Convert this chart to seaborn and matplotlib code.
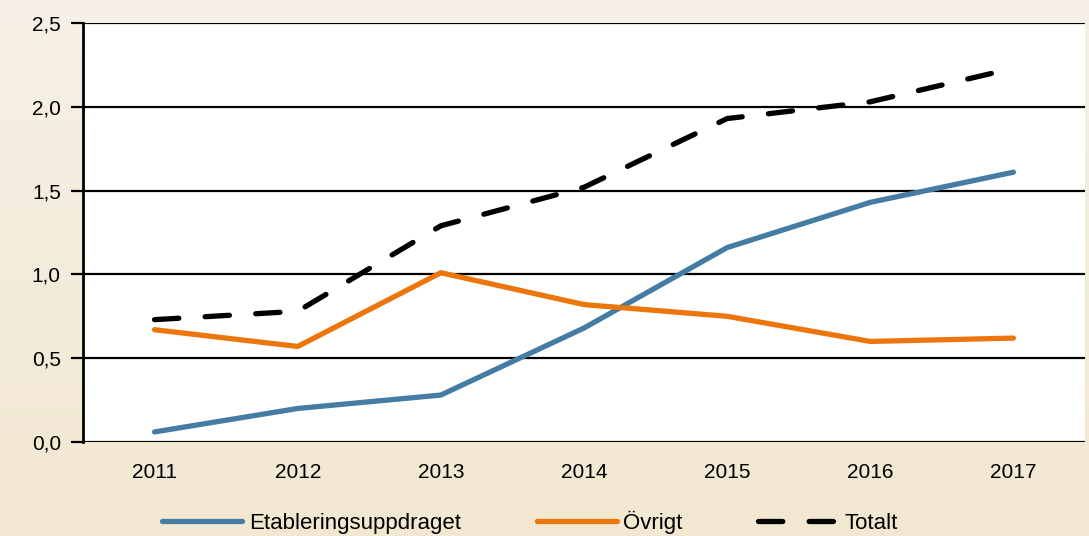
import numpy as np
import pandas as pd
import matplotlib
matplotlib.use("Agg")
import matplotlib.pyplot as plt
import seaborn as sns

# -------------------- data --------------------
years = [2011, 2012, 2013, 2014, 2015, 2016, 2017]
etablering = [0.06, 0.20, 0.28, 0.68, 1.16, 1.43, 1.61]
ovrigt = [0.67, 0.57, 1.01, 0.82, 0.75, 0.60, 0.62]
totalt = [0.73, 0.78, 1.29, 1.52, 1.93, 2.03, 2.23]
series_names = ["Etableringsuppdraget", "Övrigt", "Totalt"]
yticks = [0.0, 0.5, 1.0, 1.5, 2.0, 2.5]

colors = ["#457ca4", "#ed760c", "#000000"]

sns.set_style("white")
plt.rcParams["font.family"] = ["Liberation Sans", "DejaVu Sans"]
plt.rcParams["text.color"] = "black"
plt.rcParams["xtick.color"] = "black"
plt.rcParams["ytick.color"] = "black"

fig = plt.figure(figsize=(10.89, 5.36), dpi=100)

# beige gradient background
bg = fig.add_axes([0, 0, 1, 1], zorder=-10)
grad = np.linspace(0, 1, 256).reshape(-1, 1)
top = np.array([246, 240, 230]) / 255
bot = np.array([242, 231, 209]) / 255
img = top[None, None, :] * (1 - grad[:, :, None]) + bot[None, None, :] * grad[:, :, None]
bg.imshow(img, aspect="auto", extent=[0, 1, 0, 1])
bg.axis("off")

ax = fig.add_axes([0.0762, 0.1754, 0.9201, 0.7816])
ax.set_facecolor("white")

df = pd.DataFrame({"year": years, "Etableringsuppdraget": etablering,
                   "Övrigt": ovrigt, "Totalt": totalt})

for name, col in zip(series_names, colors):
    if name == "Totalt":
        ls = (0, (4.6, 5.0))
    else:
        ls = "-"
    sns.lineplot(data=df, x="year", y=name, ax=ax, color=col, lw=3.8,
                 linestyle=ls, label=name, solid_capstyle="round",
                 dash_capstyle="round")

ax.set_xlim(2010.5, 2017.5)
ax.set_ylim(0, 2.5)
ax.set_yticks(yticks)
ax.set_yticklabels([f"{v:.1f}".replace(".", ",") for v in yticks])
ax.set_xticks(years)
ax.set_xticklabels([str(y) for y in years])
ax.set_xlabel("")
ax.set_ylabel("")

for v in yticks:
    ax.axhline(v, color="black", lw=1.6, zorder=1)

for s in ["top", "right", "bottom"]:
    ax.spines[s].set_visible(False)
ax.spines["left"].set_color("black")
ax.spines["left"].set_linewidth(2)

ax.tick_params(axis="y", length=9, width=1.6, labelsize=15, pad=7, left=True)
ax.tick_params(axis="x", length=0, labelsize=15, pad=15)

handles, labels = ax.get_legend_handles_labels()
ax.get_legend().remove()
fig.legend(handles, labels, loc="center", bbox_to_anchor=(0.487, 0.025), ncol=3,
           frameon=False, fontsize=16, handlelength=3.6, handletextpad=0.3,
           columnspacing=3.4)

fig.savefig("out.png", dpi=100)
